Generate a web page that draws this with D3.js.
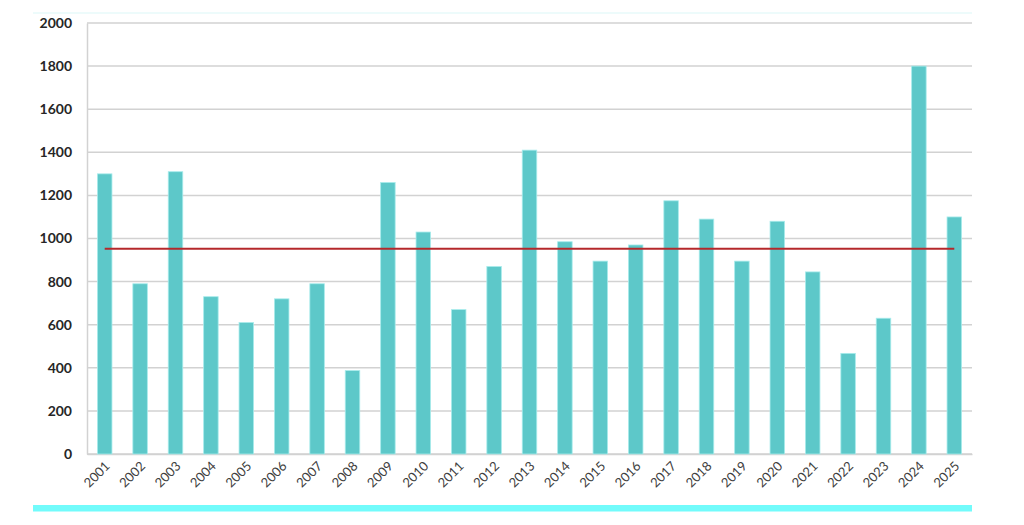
<!DOCTYPE html>
<html>
<head>
<meta charset="utf-8">
<script src="https://cdn.jsdelivr.net/npm/d3@7"></script>
<style>
  html, body { margin: 0; padding: 0; background: #fff; }
  svg { display: block; }
</style>
</head>
<body>
<div id="chart"></div>
<script>
const years = ["2001", "2002", "2003", "2004", "2005", "2006", "2007", "2008", "2009", "2010",
  "2011", "2012", "2013", "2014", "2015", "2016", "2017", "2018", "2019", "2020",
  "2021", "2022", "2023", "2024", "2025"];
const values = [1300, 790, 1310, 730, 610, 720, 790, 387, 1260, 1030,
  670, 870, 1410, 985, 895, 970, 1175, 1090, 895, 1080,
  845, 467, 630, 1800, 1100];
const yTicks = [0, 200, 400, 600, 800, 1000, 1200, 1400, 1600, 1800, 2000];

const width = 1024;
const height = 525;
const margin = { top: 23, right: 52, bottom: 71, left: 87 };

const svg = d3.select("#chart")
  .append("svg")
  .attr("width", width)
  .attr("height", height);

const x = d3.scaleBand()
  .domain(years)
  .range([margin.left, width - margin.right])
  .paddingInner(0.59)
  .paddingOuter(0.295);

const y = d3.scaleLinear()
  .domain([0, 2000])
  .range([height - margin.bottom, margin.top]);

// top and bottom decoration strips
svg.append("line")
  .attr("x1", 33).attr("x2", width - margin.right)
  .attr("y1", 13).attr("y2", 13)
  .style("stroke", "#dcf8f8")
  .style("stroke-width", 1.2);

svg.append("rect")
  .attr("x", 33)
  .attr("y", 505)
  .attr("width", width - margin.right - 33)
  .attr("height", 6.5)
  .style("fill", "#72fbfb");

// gridlines
svg.append("g")
  .selectAll("line")
  .data(yTicks)
  .enter()
  .append("line")
  .attr("x1", margin.left)
  .attr("x2", width - margin.right)
  .attr("y1", d => y(d))
  .attr("y2", d => y(d))
  .style("stroke", "#d2d2d2")
  .style("stroke-width", 1.5);

// y axis
const yAxis = svg.append("g")
  .attr("transform", `translate(${margin.left},0)`)
  .call(d3.axisLeft(y).tickValues(yTicks).tickFormat(d3.format("d")).tickSize(0).tickPadding(15));
yAxis.select(".domain")
  .style("stroke", "#d2d2d2")
  .style("stroke-width", 1.5);
yAxis.selectAll("text")
  .style("font-family", "Lato, sans-serif")
  .style("font-weight", "bold")
  .style("font-size", "14px")
  .style("fill", "#262626");

// x axis
const xAxis = svg.append("g")
  .attr("transform", `translate(0,${y(0)})`)
  .call(d3.axisBottom(x).tickSize(0).tickPadding(0));
xAxis.select(".domain")
  .style("stroke", "#d2d2d2")
  .style("stroke-width", 1.5);
xAxis.selectAll("text")
  .attr("text-anchor", "end")
  .attr("dy", null)
  .attr("y", 0)
  .attr("transform", "translate(6,13) rotate(-45)")
  .style("font-family", "Lato, sans-serif")
  .style("font-size", "13px")
  .style("fill", "#404040");

// bars
svg.append("g")
  .selectAll("rect")
  .data(values)
  .enter()
  .append("rect")
  .attr("x", (d, i) => x(years[i]))
  .attr("y", d => y(d))
  .attr("width", x.bandwidth())
  .attr("height", d => y(0) - y(d))
  .style("fill", "#5dc8c9")
  .style("stroke", "#a8ecec")
  .style("stroke-width", 0.8);

// average line
const avg = d3.mean(values);
svg.append("line")
  .attr("x1", x(years[0]) + x.bandwidth() / 2)
  .attr("x2", x(years[years.length - 1]) + x.bandwidth() / 2)
  .attr("y1", y(avg))
  .attr("y2", y(avg))
  .style("stroke", "#b5282b")
  .style("stroke-width", 2);
</script>
</body>
</html>
